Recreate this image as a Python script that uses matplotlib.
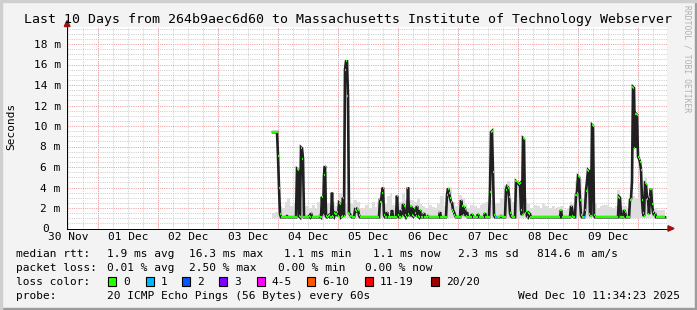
import numpy as np
import pandas as pd
import matplotlib
matplotlib.use("Agg")
import matplotlib.pyplot as plt
from matplotlib.patches import Rectangle, Polygon
from matplotlib.transforms import IdentityTransform, blended_transform_factory

# ---------------- data ----------------
VIEW_START = "2025-11-30 11:34:23"
VIEW_END = "2025-12-10 11:34:23"
DATA_START = "2025-12-03 21:58:23"   # first consolidated median sample
STEP_MIN = 24                          # minutes per consolidated sample

median_ms = [
    9.4, 9.4, 9.4, 9.4, 9.4, 7.1, 4.0, 1.4, 1.1, 1.1,
    1.1, 1.1, 1.1, 1.1, 1.2, 1.1, 1.1, 1.1, 1.1, 1.1,
    1.1, 1.1, 1.1, 1.1, 5.8, 5.7, 1.2, 1.1, 7.9, 7.8,
    6.8, 1.1, 1.1, 1.1, 1.1, 1.1, 1.2, 1.1, 1.5, 1.1,
    1.1, 1.1, 1.1, 1.1, 1.1, 1.1, 1.1, 1.2, 1.1, 3.1,
    1.3, 5.2, 6.1, 1.2, 1.1, 1.2, 1.3, 1.1, 1.1, 3.5,
    1.2, 1.1, 1.5, 1.4, 1.6, 1.2, 2.5, 2.4, 1.1, 1.2,
    3.0, 1.2, 15.5, 16.3, 16.3, 12.9, 1.5, 1.4, 1.2, 1.1,
    1.1, 1.1, 1.8, 1.7, 1.9, 1.8, 1.3, 1.1, 1.1, 1.1,
    1.1, 1.1, 1.1, 1.1, 1.1, 1.1, 1.1, 1.1, 1.1, 1.1,
    1.1, 1.1, 1.1, 1.1, 1.1, 1.1, 1.1, 2.9, 2.6, 3.5,
    4.0, 1.3, 1.1, 1.1, 1.6, 1.1, 1.1, 1.1, 1.1, 1.8,
    1.1, 1.1, 1.1, 1.1, 3.2, 1.3, 1.1, 1.1, 1.8, 1.2,
    2.4, 2.2, 1.3, 1.1, 1.3, 4.0, 1.4, 1.2, 2.2, 1.3,
    1.2, 2.0, 1.5, 1.2, 2.2, 1.2, 1.1, 1.8, 1.1, 1.1,
    1.1, 1.5, 1.1, 1.1, 1.1, 1.2, 1.1, 1.1, 1.1, 1.1,
    1.1, 1.1, 1.1, 1.1, 1.1, 1.1, 1.1, 1.6, 1.1, 1.1,
    1.1, 1.1, 1.1, 1.1, 3.3, 3.9, 3.5, 3.0, 2.6, 2.5,
    1.8, 1.6, 1.3, 1.1, 1.1, 1.1, 1.1, 1.1, 2.75, 2.2,
    1.3, 2.1, 1.9, 1.2, 1.6, 1.1, 1.1, 1.1, 1.1, 1.4,
    1.1, 1.1, 1.1, 1.1, 1.1, 1.4, 1.1, 1.1, 1.1, 1.1,
    1.1, 1.1, 1.5, 1.1, 1.1, 1.1, 1.1, 3.6, 9.4, 9.5,
    5.5, 1.3, 1.1, 1.1, 1.1, 1.1, 1.1, 1.1, 1.2, 1.1,
    1.1, 1.1, 1.1, 3.8, 4.1, 4.0, 3.1, 1.5, 1.2, 1.1,
    1.1, 1.1, 1.1, 4.6, 4.5, 4.4, 4.3, 4.4, 1.8, 1.3,
    8.8, 8.7, 1.5, 1.7, 1.2, 1.1, 1.5, 1.4, 1.1, 1.1,
    1.1, 1.1, 1.1, 1.1, 1.1, 1.1, 1.1, 1.1, 1.1, 1.1,
    1.1, 1.1, 1.1, 1.1, 1.1, 1.1, 1.1, 1.1, 1.1, 1.1,
    1.1, 1.1, 1.1, 1.1, 1.1, 1.1, 1.1, 1.1, 1.8, 1.1,
    1.1, 1.1, 1.1, 1.1, 1.1, 1.1, 1.1, 1.1, 2.2, 2.0,
    1.2, 1.1, 1.1, 3.3, 3.5, 5.1, 5.0, 2.8, 1.3, 1.1,
    1.1, 1.1, 1.8, 3.7, 4.6, 5.7, 5.6, 1.4, 1.2, 10.1,
    10.0, 1.3, 1.1, 1.1, 1.1, 1.1, 1.1, 1.1, 1.1, 1.1,
    1.1, 1.1, 1.1, 1.1, 1.1, 1.1, 1.1, 1.1, 1.1, 1.1,
    1.1, 1.1, 1.1, 1.1, 1.1, 1.1, 3.1, 3.0, 1.1, 1.1,
    1.1, 1.8, 1.6, 1.1, 1.1, 1.1, 1.1, 2.8, 2.9, 4.6,
    13.8, 13.7, 7.85, 11.2, 11.1, 7.0, 6.8, 6.5, 5.7, 2.8,
    1.5, 1.2, 4.4, 4.3, 3.0, 2.9, 1.4, 3.1, 3.9, 2.4,
    1.6, 1.3, 1.5, 1.1, 1.1, 1.1, 1.1, 1.1, 1.1, 1.1,
    1.1, 1.1, 1.1,
]
# samples with 1/20 packets lost (everything else: 0 lost)
loss1_idx = [70, 223, 311, 377]

# smoke (spread of the 20 pings), one value per 3 samples
SMOKE_BLOCK = 3
SMOKE_FLOOR = 1.05
smoke_hi_ms = [
    1.5, 1.6, 2.2, 2.0, 2.6, 3.0, 2.2, 2.4, 2.3, 2.2,
    2.5, 2.2, 2.0, 2.3, 2.0, 2.6, 3.0, 5.5, 2.5, 3.2,
    2.6, 2.2, 3.5, 3.0, 2.4, 2.2, 2.4, 2.8, 2.6, 2.0,
    1.9, 2.3, 2.0, 2.6, 2.1, 2.6, 3.6, 2.4, 3.2, 3.4,
    2.3, 3.3, 2.6, 3.4, 2.8, 3.6, 2.8, 2.6, 2.9, 2.4,
    2.2, 2.0, 2.3, 2.1, 2.0, 2.4, 3.2, 2.2, 4.0, 4.0,
    2.6, 2.2, 3.3, 3.0, 2.4, 2.0, 2.3, 2.2, 2.0, 2.3,
    2.4, 2.6, 2.8, 2.6, 2.5, 2.5, 3.0, 4.2, 4.6, 3.0,
    2.6, 4.6, 4.4, 2.6, 3.0, 2.4, 2.0, 2.3, 2.2, 2.0,
    2.4, 2.2, 2.0, 2.2, 1.9, 2.1, 2.2, 1.8, 2.0, 2.6,
    2.4, 4.6, 4.8, 3.0, 4.0, 5.2, 2.6, 2.4, 2.0, 2.2,
    2.3, 2.3, 2.1, 2.0, 2.2, 3.8, 2.2, 2.2, 2.0, 3.0,
    3.2, 3.0, 4.4, 3.5, 5.0, 3.3, 3.6, 2.0, 1.8, 1.8,
    1.8,
]

day_labels = ["30 Nov", "01 Dec", "02 Dec", "03 Dec", "04 Dec",
              "05 Dec", "06 Dec", "07 Dec", "08 Dec", "09 Dec"]
y_ticks = [0, 2, 4, 6, 8, 10, 12, 14, 16, 18]
y_labels = ["0", "2 m", "4 m", "6 m", "8 m", "10 m", "12 m", "14 m", "16 m", "18 m"]

title = "Last 10 Days from 264b9aec6d60 to Massachusetts Institute of Technology Webserver"
rtt_stats = ["1.9 ms avg", "16.3 ms max", "1.1 ms min", "1.1 ms now", "2.3 ms sd", "814.6 m am/s"]
loss_stats = ["0.01 % avg", "2.50 % max", "0.00 % min", "0.00 % now"]
loss_names = ["0", "1", "2", "3", "4-5", "6-10", "11-19", "20/20"]
loss_colors = ["#26ff00", "#00b8ff", "#0059ff", "#7e00ff", "#ff00ff", "#ff5500", "#ff0000", "#a10000"]
probe_text = "20 ICMP Echo Pings (56 Bytes) every 60s"
stamp_text = "Wed Dec 10 11:34:23 2025"

# ---------------- layout ----------------
W, H = 697, 310
MONO = "DejaVu Sans Mono"
FS = 8.05
plt.rcParams["font.family"] = [MONO, "DejaVu Sans"]

fig = plt.figure(figsize=(W / 100, H / 100), dpi=100, facecolor="#f3f3f3")

def fx(x):
    return x / W

def fy(y):
    return 1 - y / H

AX_L, AX_R, AX_T, AX_B = 67, 667, 26.5, 228.5
ax = fig.add_axes([fx(AX_L), fy(AX_B), (AX_R - AX_L) / W, (AX_B - AX_T) / H])
ax.set_facecolor("#ffffff")

t0 = pd.Timestamp(VIEW_START)
t1 = pd.Timestamp(VIEW_END)
ax.set_xlim(t0, t1)
ax.set_ylim(0, (AX_B - AX_T) / 10.25)

# grid (light 1px dotted, like rrdtool)
GRID = "#cdcdcd"
MGRID = "#ee9e9e"
gkw = dict(lw=0.72, ls=(0, (1, 1.2)))
minor_x = pd.date_range(t0.ceil("6h"), t1, freq="6h")
major_x = pd.date_range(t0.ceil("1D"), t1, freq="1D")
for v in minor_x:
    ax.axvline(v, color=GRID, zorder=0.5, **gkw)
for v in np.arange(0.5, 19.75, 0.5):
    if v % 2:
        ax.axhline(v, color=GRID, zorder=0.5, **gkw)
for v in major_x:
    ax.axvline(v, color=MGRID, zorder=0.6, **gkw)
for v in y_ticks[1:]:
    ax.axhline(v, color=MGRID, zorder=0.6, **gkw)

# data
step = pd.Timedelta(minutes=STEP_MIN)
times = pd.date_range(DATA_START, periods=len(median_ms), freq=f"{STEP_MIN}min")
med = np.array(median_ms)

smoke_edges = pd.date_range(pd.Timestamp(DATA_START) - step / 2,
                            periods=len(smoke_hi_ms) + 1,
                            freq=f"{STEP_MIN * SMOKE_BLOCK}min")
sh = np.array(smoke_hi_ms + [smoke_hi_ms[-1]])
ax.fill_between(smoke_edges, SMOKE_FLOOR, sh, step="post", color="#dedede", lw=0, zorder=1)

ax.plot(times, med, color="#202020", lw=1.9, zorder=2, solid_joinstyle="miter")
loss = np.zeros(len(med), dtype=int)
loss[loss1_idx] = 1
cols = [loss_colors[k] for k in loss]
ax.hlines(med, times - step / 2, times + step / 2, colors=cols, lw=1.6, zorder=3)

# ticks
noon = pd.date_range(t0.normalize() + pd.Timedelta(hours=12), periods=len(day_labels), freq="1D")
ax.set_xticks(noon)
ax.set_xticklabels(day_labels, fontsize=FS, family=MONO)
ax.set_yticks(y_ticks)
ax.set_yticklabels([""] + y_labels[1:], fontsize=FS, family=MONO)
ax.tick_params(axis="x", length=0, pad=2.6)
ax.tick_params(axis="y", length=0, pad=4.6)
# the "0" label sits in the first column of the other labels
ax.text(fx(42.7), y_ticks[0], y_labels[0], transform=blended_transform_factory(fig.transFigure, ax.transData),
        ha="left", va="center", fontsize=FS, family=MONO)

for s in ["top", "right"]:
    ax.spines[s].set_visible(False)
for s in ["left", "bottom"]:
    ax.spines[s].set_color("#000000")
    ax.spines[s].set_linewidth(0.7)
    ax.spines[s].set_zorder(4)

# axis arrows (pixel coordinates, origin bottom-left)
idt = IdentityTransform()
fig.patches.append(Polygon([[64.3, H - 26.5], [70.0, H - 26.5], [67.1, H - 20.5]],
                           closed=True, color="#a01010", transform=idt, figure=fig))
fig.patches.append(Polygon([[668, H - 225.8], [668, H - 231.2], [674, H - 228.5]],
                           closed=True, color="#a01010", transform=idt, figure=fig))

# frame shading
fig.patches.append(Rectangle((0, 0), W, 2, color="#9c9c9c", transform=idt, figure=fig))
fig.patches.append(Rectangle((W - 2, 0), 2, H, color="#9c9c9c", transform=idt, figure=fig))
fig.patches.append(Rectangle((0, H - 2), W, 2, color="#cfcfcf", transform=idt, figure=fig))
fig.patches.append(Rectangle((0, 0), 2, H, color="#cfcfcf", transform=idt, figure=fig))

# texts
fig.text(fx(348.4), fy(19.3), title, ha="center", va="center", fontsize=9.55, family=MONO, color="#000000")
fig.text(fx(11.5), fy(126), "Seconds", rotation=90, ha="center", va="center", fontsize=FS, family=MONO)
fig.text(fx(687), fy(5), "RRDTOOL / TOBI OETIKER", rotation=270, ha="center", va="top",
         fontsize=5.8, family=MONO, color="#b0b0b0")

L1, L2, L3, L4 = 254, 268.3, 281.7, 296
fig.text(fx(16), fy(L1), "median rtt:", ha="left", va="center", fontsize=FS, family=MONO)
for s, x in zip(rtt_stats, [107, 189.3, 284, 372.7, 458.3, 537.3]):
    fig.text(fx(x), fy(L1), s, ha="left", va="center", fontsize=FS, family=MONO)
fig.text(fx(16), fy(L2), "packet loss:", ha="left", va="center", fontsize=FS, family=MONO)
for s, x in zip(loss_stats, [107, 189.3, 278.3, 365]):
    fig.text(fx(x), fy(L2), s, ha="left", va="center", fontsize=FS, family=MONO)
fig.text(fx(16), fy(L3), "loss color:", ha="left", va="center", fontsize=FS, family=MONO)
for name, c, x in zip(loss_names, loss_colors, [108.3, 145.7, 182.3, 219, 256.7, 307.3, 365, 431]):
    fig.patches.append(Rectangle((x, H - L3 - 4.5), 8, 9, facecolor=c, edgecolor="#000000",
                                 lw=0.8, transform=idt, figure=fig))
    fig.text(fx(x + 15), fy(L3), name, ha="left", va="center", fontsize=FS, family=MONO)
fig.text(fx(16), fy(L4), "probe:", ha="left", va="center", fontsize=FS, family=MONO)
fig.text(fx(107), fy(L4), probe_text, ha="left", va="center", fontsize=FS, family=MONO)
fig.text(fx(680), fy(L4), stamp_text, ha="right", va="center", fontsize=FS, family=MONO)

fig.savefig("out.png", dpi=100, facecolor=fig.get_facecolor())
